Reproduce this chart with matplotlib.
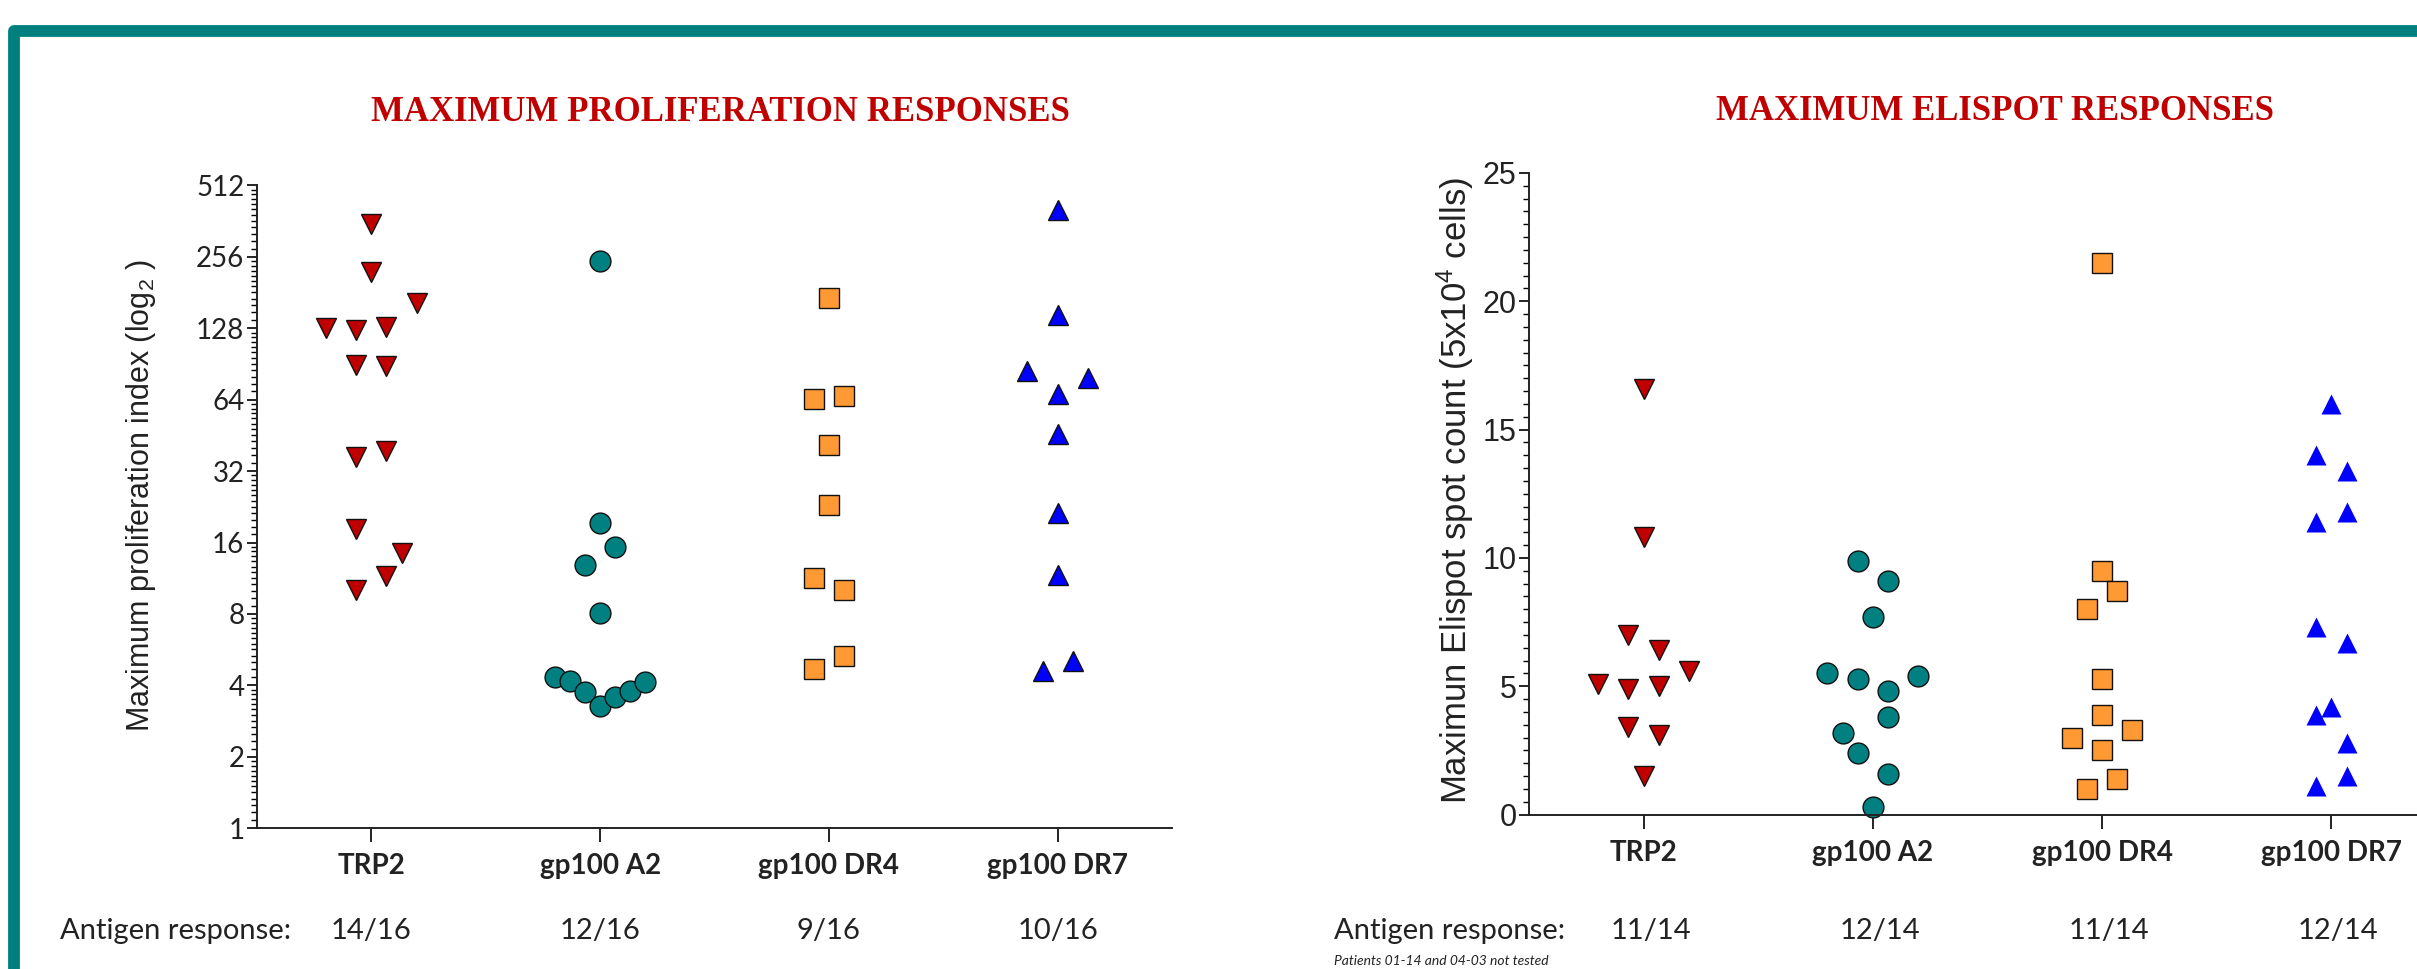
import numpy as np
import matplotlib
matplotlib.use("Agg")
import matplotlib.pyplot as plt
import matplotlib.transforms as mtransforms
from matplotlib.ticker import FixedLocator, MultipleLocator, NullFormatter
from matplotlib.patches import Rectangle

plt.rcParams['mathtext.fontset'] = 'custom'
plt.rcParams['mathtext.rm'] = 'Liberation Sans'
plt.rcParams['mathtext.default'] = 'regular'

#
# Data
#
antigens = ['TRP2', 'gp100 A2', 'gp100 DR4', 'gp100 DR7']

# maximum proliferation index
prolif_trp2 = [353, 221, 164, 128, 126, 129, 90, 89, 36.6, 38.8, 18.3, 14.4, 11.6, 10.1]
prolif_a2 = [246, 19.3, 15.3, 12.8, 8.06, 4.35, 4.17, 3.74, 3.28, 3.56, 3.79, 4.14]
prolif_dr4 = [172, 64.6, 66.6, 41.2, 23.1, 11.3, 10.1, 4.7, 5.3]
prolif_dr7 = [403, 145, 84.6, 78.8, 67.8, 45.9, 21.3, 11.7, 4.6, 5.05]
prolif_response = ['14/16', '12/16', '9/16', '10/16']

# maximum elispot spot count
elispot_trp2 = [16.6, 10.8, 7.0, 6.4, 5.6, 5.1, 4.9, 5.0, 3.4, 3.1, 1.5]
elispot_a2 = [9.9, 9.1, 7.7, 5.5, 5.3, 5.4, 4.8, 3.8, 3.2, 2.4, 1.6, 0.3]
elispot_dr4 = [21.5, 9.5, 8.7, 8.0, 5.3, 3.9, 3.0, 3.3, 2.5, 1.0, 1.4]
elispot_dr7 = [16.0, 14.0, 13.4, 11.4, 11.8, 7.3, 6.7, 3.9, 4.2, 2.8, 1.1, 1.5]
elispot_response = ['11/14', '12/14', '11/14', '12/14']

# horizontal scatter slots (layout only, multiples of 'slot')
slots_prolif = [[0, 0, 3, -3, -1, 1, -1, 1, -1, 1, -1, 2, 1, -1],
                [0, 0, 1, -1, 0, -3, -2, -1, 0, 1, 2, 3],
                [0, -1, 1, 0, 0, -1, 1, -1, 1],
                [0, 0, -2, 2, 0, 0, 0, 0, -1, 1]]
slots_elispot = [[0, 0, -1, 1, 3, -3, -1, 1, -1, 1, 0],
                 [-1, 1, 0, -3, -1, 3, 1, 1, -2, -1, 1, 0],
                 [0, 0, 1, -1, 0, 0, -2, 2, 0, -1, 1],
                 [0, -1, 1, -1, 1, -1, 1, -1, 0, 1, -1, 1]]
slot = 0.066

markers = ['v', 'o', 's', '^']
colors = ['#C00000', '#008080', '#FF9933', '#0000FF']

red = '#C00000'
cat_font = dict(family='Lato', weight='bold', size=20)
txt_font = dict(family='Lato', size=21)

fig = plt.figure(figsize=(24.17, 9.69), dpi=100)

# teal frame (cut by the right and bottom edges)
fig.patches.append(Rectangle((0.0056, -0.1), 1.1, 1.068, transform=fig.transFigure,
                             fill=False, edgecolor='#007F7F', linewidth=8.5,
                             joinstyle='round', zorder=0))


def style_axis(ax):
    for s in ['top', 'right']:
        ax.spines[s].set_visible(False)
    for s in ['left', 'bottom']:
        ax.spines[s].set_linewidth(1.4)
        ax.spines[s].set_color('#222222')
    ax.set_xlim(-0.5, 3.5)
    ax.set_xticks(range(len(antigens)))
    ax.set_xticklabels(antigens, fontdict=cat_font)
    ax.tick_params(axis='x', length=10, width=1.4, pad=8, colors='#222222')
    ax.tick_params(axis='y', which='major', length=7, width=1.2, pad=2)
    ax.tick_params(axis='y', which='minor', length=4, width=1.0)


#
# Proliferation panel
#
ax1 = fig.add_axes([0.1063, 0.1453, 0.3786, 0.6634])
groups = [prolif_trp2, prolif_a2, prolif_dr4, prolif_dr7]
for i, vals in enumerate(groups):
    x = i + slot * np.array(slots_prolif[i])
    ax1.plot(x, vals, linestyle='none', marker=markers[i], ms=15,
             mfc=colors[i], mec='#111111', mew=1.0, clip_on=False)
ax1.set_yscale('log', base=2)
ax1.set_ylim(1, 512)
major = [1, 2, 4, 8, 16, 32, 64, 128, 256, 512]
ax1.yaxis.set_major_locator(FixedLocator(major))
ax1.set_yticklabels([str(v) for v in major], family='Lato', size=20, color='#222222')
minor = [m * (1 + k / 12.0) for m in major[:-1] for k in range(1, 12)]
ax1.yaxis.set_minor_locator(FixedLocator(minor))
ax1.yaxis.set_minor_formatter(NullFormatter())
style_axis(ax1)
ax1.set_ylabel('Maximum proliferation index (log$_{2}$ )', family='Liberation Sans',
               size=22, color='#222222')
ax1.yaxis.set_label_coords(0.0652, 0.488, transform=fig.transFigure)
fig.text(0.298, 0.8844, 'MAXIMUM PROLIFERATION RESPONSES', ha='center', va='center',
         family='Liberation Serif', weight='bold', size=25, color=red)

#
# Elispot panel
#
ax2 = fig.add_axes([0.6326, 0.1593, 0.3794, 0.6622])
groups = [elispot_trp2, elispot_a2, elispot_dr4, elispot_dr7]
for i, vals in enumerate(groups):
    x = i + slot * np.array(slots_elispot[i])
    edge = 'none' if i == 3 else '#111111'
    ax2.plot(x, vals, linestyle='none', marker=markers[i], ms=15,
             mfc=colors[i], mec=edge, mew=1.0, clip_on=False)
ax2.set_ylim(0, 25)
ax2.yaxis.set_major_locator(MultipleLocator(5))
ax2.yaxis.set_minor_locator(MultipleLocator(0.5))
for lab in ax2.get_yticklabels():
    lab.set_family('Liberation Sans')
    lab.set_size(22)
    lab.set_color('#222222')
style_axis(ax2)
ax2.set_ylabel('Maximun Elispot spot count (5x10$^{4}$ cells)', family='Liberation Sans',
               size=25, color='#222222')
ax2.yaxis.set_label_coords(0.6105, 0.4943, transform=fig.transFigure)
fig.text(0.8254, 0.8854, 'MAXIMUM ELISPOT RESPONSES', ha='center', va='center',
         family='Liberation Serif', weight='bold', size=25, color=red)

#
# Antigen response rows
#
row_y = 0.039
fig.text(0.0248, row_y, 'Antigen response:', ha='left', va='center', color='#222222', **txt_font)
fig.text(0.552, row_y, 'Antigen response:', ha='left', va='center', color='#222222', **txt_font)
for ax, resp, dx in [(ax1, prolif_response, 0.0), (ax2, elispot_response, 0.03)]:
    trans = mtransforms.blended_transform_factory(ax.transData, fig.transFigure)
    for i, r in enumerate(resp):
        fig.text(i + dx, row_y, r, transform=trans, ha='center', va='center',
                 color='#222222', **txt_font)

fig.text(0.552, 0.002, 'Patients 01-14 and 04-03 not tested', ha='left', va='bottom',
         family='Lato', style='italic', size=10, color='#222222')

plt.savefig('out.png', dpi=100)
